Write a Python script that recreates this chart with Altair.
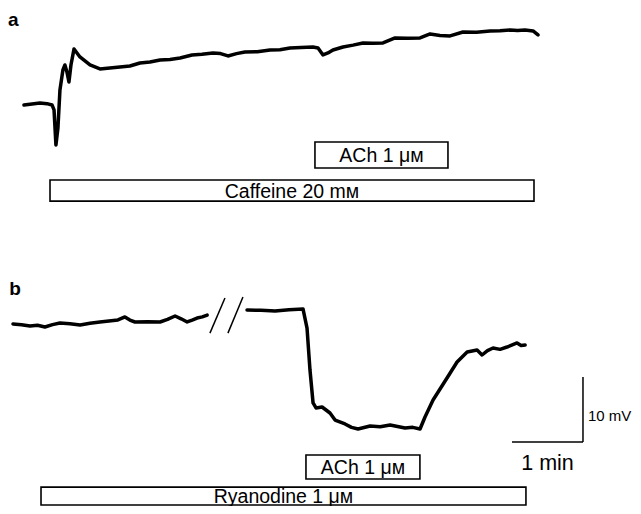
import altair as alt
import pandas as pd

# ---------------- data (time in s, potential in mV) ----------------
# Trace a: time from trace start, potential relative to initial baseline
a_t = [0, 6.8, 13.5, 19.4, 23.7, 25.4, 27.0, 28.7, 30.4, 32.9, 34.6, 36.3, 38.0, 39.7, 42.3,
       47.3, 55.8, 64.2, 72.6, 81.1, 89.5, 98.0, 106.5, 115.0, 123.4, 131.9, 142.0, 150.4,
       159.7, 166.1, 172.4, 179.6, 186.7, 197.2, 207.9, 216.3, 224.8, 234.1, 244.2, 248.5,
       252.7, 256.9, 261.1, 269.6, 278.1, 286.5, 294.9, 303.4, 313.6, 324.2, 334.7, 343.2,
       351.6, 360.1, 371.0, 382.4, 393.9, 402.3, 410.8, 417.1, 423.4, 430.2, 434.4]
a_v = [0, 0.15, 0.31, 0.2, 0, -0.77, -6.15, -3.54, 2.31, 5.38, 6.15, 5.08, 3.54, 6.15, 8.62,
       7.38, 6.15, 5.54, 5.7, 5.85, 6.0, 6.46, 6.6, 6.92, 7.0, 7.23, 7.69, 7.8,
       8.0, 7.9, 7.54, 7.9, 8.15, 8.2, 8.46, 8.5, 8.77, 8.85, 8.92, 8.77,
       7.69, 8.0, 8.46, 8.92, 9.2, 9.54, 9.5, 9.54, 10.31, 10.25, 10.31, 10.92,
       10.7, 10.62, 11.23, 11.2, 11.38, 11.4, 11.54, 11.45, 11.54, 11.38, 10.77]

# Trace b, before the break
b1_t = [0, 7.2, 14.4, 20.7, 27.0, 33.4, 39.7, 48.2, 56.7, 65.1, 73.5, 81.1, 88.7, 94.6,
        98.8, 103.1, 113.7, 124.3, 130.6, 137.0, 142.1, 147.2, 151.4, 155.6, 160.0, 164.1]
b1_v = [0, -0.1, -0.31, -0.2, -0.46, -0.1, 0.15, 0.05, -0.15, 0.1, 0.31, 0.45, 0.62, 1.08,
        0.6, 0.31, 0.35, 0.31, 0.7, 1.23, 0.8, 0.31, 0.6, 0.92, 1.1, 1.38]

# Trace b, after the break (same potential reference)
b2_t = [0, 11.8, 23.7, 35.5, 47.3, 50.7, 53.2, 55.8, 58.3, 63.4, 70.1, 74.4, 82.8, 88.3,
        93.8, 104.0, 112.5, 120.9, 133.5, 140.0, 146.2, 150.4, 157.2, 169.0, 177.5, 186.0,
        194.4, 198.6, 203.2, 207.9, 213.8, 219.7, 228.2, 231.6, 235.0]
b2_v = [2.15, 2.1, 2.0, 2.2, 2.31, -0.62, -7.08, -12.15, -12.92, -12.77, -13.69, -14.77,
        -15.38, -15.9, -16.15, -15.69, -15.8, -15.54, -16.0, -15.9, -16.15, -14.31, -11.69,
        -8.31, -5.85, -4.31, -4.0, -4.77, -4.1, -3.69, -3.9, -3.54, -2.92, -3.3, -3.23]

# Drug applications (start, end) in s on the figure time axis
drug_names = ["ACh 1 \u03bc\u1d0d", "Caffeine 20 m\u1d0d", "ACh 1 \u03bc\u1d0d", "Ryanodine 1 \u03bc\u1d0d"]
drug_start = [259.4, 35.5, 251.8, 27.9]
drug_end = [371.8, 444.5, 348.1, 437.7]

# Scale bar
bar_time = 60   # s  -> "1 min"
bar_volt = 10   # mV -> "10 mV"

# ---------------- layout ----------------
W, H = 625, 498
T_MAX = W * 60 / 71.0
V_MAX = H / 6.5

A_T0, A_V0 = 13.5, 61.7
B1_T0, B2_T0, B_V0 = 4.2, 202.0, 28.0
box_y = [(52.0, 56.0), (46.9, 50.15), (4.15, 7.85), (0.15, 2.9)]
bar_t0, bar_v0 = 425.9, 9.85

xs = alt.Scale(domain=[0, T_MAX], nice=False, zero=False)
ys = alt.Scale(domain=[0, V_MAX], nice=False, zero=False)
X = lambda f: alt.X(f, type="quantitative", scale=xs, axis=None)
Y = lambda f: alt.Y(f, type="quantitative", scale=ys, axis=None)

rows = []
for i, (t, v) in enumerate(zip(a_t, a_v)):
    rows.append(dict(seg="a", i=i, t=A_T0 + t, v=A_V0 + v))
for i, (t, v) in enumerate(zip(b1_t, b1_v)):
    rows.append(dict(seg="b1", i=i, t=B1_T0 + t, v=B_V0 + v))
for i, (t, v) in enumerate(zip(b2_t, b2_v)):
    rows.append(dict(seg="b2", i=i, t=B2_T0 + t, v=B_V0 + v))
traces = pd.DataFrame(rows)

trace_layer = alt.Chart(traces).mark_line(
    color="black", strokeWidth=3.5, strokeJoin="round", strokeCap="round"
).encode(x=X("t"), y=Y("v"), detail="seg:N", order="i:Q")

# break marks "//" between the two parts of trace b
gap_mid = (B1_T0 + b1_t[-1] + B2_T0) / 2
brk = pd.DataFrame([
    dict(t=gap_mid - 14.5, v=B_V0 - 1.4, t2=gap_mid - 1.8, v2=B_V0 + 4.0),
    dict(t=gap_mid + 0.7, v=B_V0 - 1.4, t2=gap_mid + 13.4, v2=B_V0 + 4.15),
])
brk_layer = alt.Chart(brk).mark_rule(color="black", strokeWidth=1.5).encode(
    x=X("t"), y=Y("v"), x2="t2", y2="v2")

boxes = pd.DataFrame(dict(
    name=drug_names, t=drug_start, t2=drug_end,
    v=[b[0] for b in box_y], v2=[b[1] for b in box_y]))
boxes["tm"] = (boxes.t + boxes.t2) / 2
boxes["vm"] = (boxes.v + boxes.v2) / 2
box_layer = alt.Chart(boxes).mark_rect(
    fill="white", stroke="black", strokeWidth=1.6
).encode(x=X("t"), x2="t2", y=Y("v"), y2="v2")
box_text = alt.Chart(boxes).mark_text(
    font="Liberation Sans", fontSize=19.5, color="black", baseline="middle", dy=1
).encode(x=X("tm"), y=Y("vm"), text="name:N")

sb = pd.DataFrame([
    dict(t=bar_t0, v=bar_v0, t2=bar_t0 + bar_time, v2=bar_v0),
    dict(t=bar_t0 + bar_time, v=bar_v0, t2=bar_t0 + bar_time, v2=bar_v0 + bar_volt),
])
sb_layer = alt.Chart(sb).mark_rule(color="black", strokeWidth=1.5).encode(
    x=X("t"), y=Y("v"), x2="t2", y2="v2")

sb_txt1 = alt.Chart(pd.DataFrame([dict(t=bar_t0 + bar_time + 4.2, v=bar_v0 + bar_volt * 0.4, s="10 mV")])
                    ).mark_text(font="Liberation Sans", fontSize=15, align="left", baseline="middle",
                                color="black").encode(x=X("t"), y=Y("v"), text="s:N")
sb_txt2 = alt.Chart(pd.DataFrame([dict(t=bar_t0 + bar_time / 2, v=bar_v0 - 3.4, s="1 min")])
                    ).mark_text(font="Liberation Sans", fontSize=21.5, align="center", baseline="middle",
                                color="black").encode(x=X("t"), y=Y("v"), text="s:N")

panel_lbl = alt.Chart(pd.DataFrame([dict(t=0, v=73.9, s="a"), dict(t=1.0, v=32.5, s="b")])
                      ).mark_text(font="Liberation Sans", fontSize=19, fontWeight="bold",
                                  align="left", baseline="alphabetic", color="black"
                                  ).encode(x=X("t"), y=Y("v"), text="s:N")

chart = alt.layer(
    trace_layer, brk_layer, box_layer, box_text, sb_layer, sb_txt1, sb_txt2, panel_lbl
).properties(
    width=W, height=H, autosize=alt.AutoSizeParams(type="none"), padding=0,
    background="white"
).configure_view(stroke=None)

chart.save("out.html", embed_options={"renderer": "svg", "actions": False})
